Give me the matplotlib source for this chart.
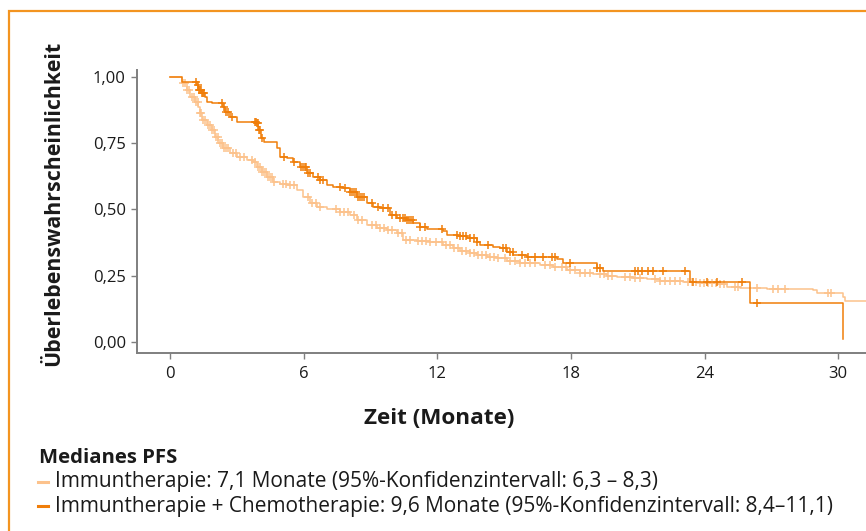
import numpy as np
import matplotlib
matplotlib.use("Agg")
import matplotlib.pyplot as plt
from matplotlib.lines import Line2D

plt.rcParams['font.family'] = ['Open Sans', 'DejaVu Sans']

# ---- data ----
# Immuntherapie (light): step times (months) and survival after each step
io_t = [0.0, 0.52, 0.75, 0.90, 1.12, 1.27, 1.35, 1.42, 1.65, 1.87, 2.02, 2.17, 2.39,
        2.69, 2.99, 3.44, 3.74, 3.89, 4.12, 4.34, 4.64, 4.94, 5.24, 5.69, 5.99,
        6.29, 6.59, 7.04, 7.63, 8.08, 8.38, 8.83, 9.28, 9.73, 10.18, 10.48, 11.08,
        11.67, 12.27, 12.72, 13.02, 13.47, 13.77, 14.22, 14.67, 15.12, 15.72,
        16.61, 17.21, 17.81, 18.41, 19.01, 19.61, 20.06, 20.80, 21.40, 22.00,
        23.05, 23.80, 24.55, 24.99, 25.59, 26.79, 28.89, 29.04, 30.23, 30.31, 31.3]
io_s = [1.0, 0.976, 0.951, 0.926, 0.907, 0.888, 0.863, 0.838, 0.819, 0.800, 0.775, 0.750, 0.731,
        0.712, 0.699, 0.687, 0.680, 0.662, 0.643, 0.624, 0.605, 0.596, 0.592, 0.574, 0.548,
        0.523, 0.511, 0.501, 0.492, 0.479, 0.460, 0.442, 0.429, 0.423, 0.410, 0.385, 0.382,
        0.378, 0.366, 0.353, 0.345, 0.335, 0.328, 0.322, 0.316, 0.306, 0.297,
        0.291, 0.282, 0.272, 0.262, 0.255, 0.250, 0.247, 0.243, 0.236, 0.230,
        0.228, 0.224, 0.218, 0.206, 0.203, 0.200, 0.196, 0.184, 0.171, 0.155, 0.155]
io_cens = [0.58, 0.67, 0.76, 0.85, 0.99, 1.08, 1.17, 1.26, 1.35, 1.39, 1.48, 1.57,
           1.71, 1.80, 1.89, 1.98, 2.07, 2.16, 2.25, 2.33, 2.42, 2.51, 2.60,
           2.83, 2.96, 3.14, 3.32, 3.68, 3.82, 3.95,
           4.04, 4.13, 4.22, 4.31, 4.40, 4.49, 4.58, 4.67,
           5.07, 5.21, 5.39, 5.57, 6.20, 6.38, 6.56, 6.74,
           7.45, 7.63, 7.81, 7.99, 8.26, 8.44, 8.62,
           9.07, 9.25, 9.43, 9.61, 9.79, 9.97, 10.24, 10.42, 10.60, 10.78,
           11.14, 11.32, 11.50, 11.67, 11.94,
           12.21, 12.39, 12.57, 12.75, 12.93, 13.11, 13.29, 13.47, 13.65, 13.83,
           14.01, 14.19, 14.37, 14.55, 14.73,
           15.04, 15.27, 15.49, 15.72, 15.94, 16.17, 16.39, 16.84, 17.06, 17.29,
           17.60, 17.78, 17.96, 18.19, 18.41, 18.63, 18.86,
           19.31, 19.49, 19.67, 19.85, 20.43, 20.66, 20.88, 21.10,
           21.78, 22.00, 22.23, 22.45, 22.68, 22.90,
           23.26, 23.44, 23.62, 23.80, 23.98, 24.16, 24.34, 24.52, 24.70, 24.88,
           25.37, 25.50, 26.36, 27.08, 27.30, 27.62, 29.55, 29.68]

# Immuntherapie + Chemotherapie (dark)
ic_t = [0.0, 0.52, 1.20, 1.27, 1.42, 1.57, 1.65, 1.87, 2.39, 2.47, 2.69, 2.99, 3.89,
        3.97, 4.07, 4.22, 4.79, 4.94, 5.24, 5.54, 5.84, 6.14, 6.43, 6.74, 7.04,
        7.33, 7.78, 8.08, 8.38, 8.83, 9.13, 9.43, 9.88, 10.18, 10.63, 10.93, 11.23,
        11.53, 12.27, 12.42, 12.94, 13.32, 13.77, 13.92, 14.52, 14.82, 15.12, 15.42,
        16.02, 17.36, 17.66, 19.16, 19.46, 23.35, 26.04, 30.22]
ic_s = [1.0, 0.982, 0.970, 0.951, 0.938, 0.926, 0.907, 0.900, 0.888, 0.869, 0.850, 0.831, 0.825,
        0.800, 0.769, 0.756, 0.731, 0.699, 0.693, 0.680, 0.662, 0.637, 0.624, 0.611, 0.592,
        0.586, 0.580, 0.567, 0.548, 0.523, 0.511, 0.505, 0.479, 0.467, 0.460, 0.449, 0.435,
        0.425, 0.420, 0.404, 0.400, 0.391, 0.379, 0.366, 0.360, 0.353, 0.341, 0.328,
        0.320, 0.312, 0.297, 0.278, 0.268, 0.228, 0.148, 0.010]
ic_cens = [1.17, 1.26, 1.30, 1.35, 1.39, 1.44, 1.48, 1.53,
           2.33, 2.42, 2.51, 2.60, 2.78,
           3.82, 3.86, 3.91, 3.95, 4.00, 4.04, 4.13,
           5.12, 5.57, 5.88, 5.97, 6.06, 6.11, 6.20, 6.29,
           6.65, 6.74, 6.87, 7.63, 7.86,
           8.08, 8.17, 8.26, 8.35, 8.44, 8.53, 8.62, 8.71,
           9.07, 9.34, 9.56, 9.79, 9.97,
           10.15, 10.33, 10.46, 10.55, 10.64, 10.73, 10.82, 10.91,
           11.23, 11.45, 12.21, 12.89, 13.02, 13.16, 13.29, 13.47, 13.65, 13.79, 14.28,
           14.95, 15.09, 15.27, 15.40, 15.81, 16.08, 16.39, 16.75, 17.15, 17.29, 17.96,
           19.17, 19.31, 20.88, 21.01, 21.19, 21.46, 21.69, 22.14, 23.13, 23.48,
           24.11, 24.56, 25.68, 26.36]

x_ticks = [0, 6, 12, 18, 24, 30]
y_ticks = [0.0, 0.25, 0.5, 0.75, 1.0]
y_ticklabels = ["0,00", "0,25", "0,50", "0,75", "1,00"]

light = '#FCC28C'
dark = '#F07E0A'
border = '#F39420'
ink = '#1a1a1a'

W, H = 866, 531
fig = plt.figure(figsize=(W / 100, H / 100), dpi=100)


def fx(px):
    return px / W


def fy(py):
    return 1 - py / H


ax = fig.add_axes([fx(137), fy(353), fx(866) - fx(137), fy(70) - fy(353)])
ax.set_xlim(-1.48, 31.25)
ax.set_ylim(-0.0415, 1.0264)


def step_val(ts, ss, t):
    idx = np.searchsorted(np.asarray(ts), np.asarray(t), side='right') - 1
    return np.asarray(ss)[idx]


for ts, ss, cens, col, z in [(io_t, io_s, io_cens, light, 2), (ic_t, ic_s, ic_cens, dark, 3)]:
    ax.step(ts, ss, where='post', color=col, lw=1.1, zorder=z, clip_on=False)
    ax.plot(cens, step_val(ts, ss, cens), linestyle='none', marker='+',
            markersize=6, mew=1.1, color=col, zorder=z)

for side in ['top', 'right']:
    ax.spines[side].set_visible(False)
for side in ['left', 'bottom']:
    ax.spines[side].set_color('#7f7f7f')
    ax.spines[side].set_linewidth(1.4)

ax.set_xticks(x_ticks)
ax.set_xticklabels([str(v) for v in x_ticks])
ax.set_yticks(y_ticks)
ax.set_yticklabels(y_ticklabels)
ax.tick_params(axis='both', direction='out', length=4, width=1.0, color='#7f7f7f',
               labelsize=12, labelcolor=ink)
ax.tick_params(axis='x', pad=5)
ax.tick_params(axis='y', pad=4)

fig.text(fx(54), fy(203), "Überlebenswahrscheinlichkeit", rotation=90, ha='center',
         va='center', fontsize=15.4, fontweight='bold', color=ink)
fig.text(fx(439), fy(419), "Zeit (Monate)", ha='center', va='center', fontsize=16.2,
         fontweight='bold', color=ink)

fig.text(fx(39), fy(463), "Medianes PFS", ha='left', va='baseline', fontsize=14.6,
         fontweight='bold', color=ink)
fig.text(fx(55), fy(487), "Immuntherapie: 7,1 Monate (95%-Konfidenzintervall: 6,3 – 8,3)",
         ha='left', va='baseline', fontsize=15, color=ink)
fig.text(fx(55), fy(512),
         "Immuntherapie + Chemotherapie: 9,6 Monate (95%-Konfidenzintervall: 8,4–11,1)",
         ha='left', va='baseline', fontsize=15, color=ink)
fig.add_artist(Line2D([fx(38), fx(48)], [fy(482), fy(482)], color=light, lw=2.2))
fig.add_artist(Line2D([fx(38), fx(48)], [fy(506), fy(506)], color=dark, lw=2.2))

# orange frame
fig.add_artist(Line2D([fx(9), fx(9), fx(866)], [fy(531), fy(11), fy(11)],
                      color=border, lw=1.6, solid_joinstyle='miter'))

fig.savefig('out.png', dpi=100)
